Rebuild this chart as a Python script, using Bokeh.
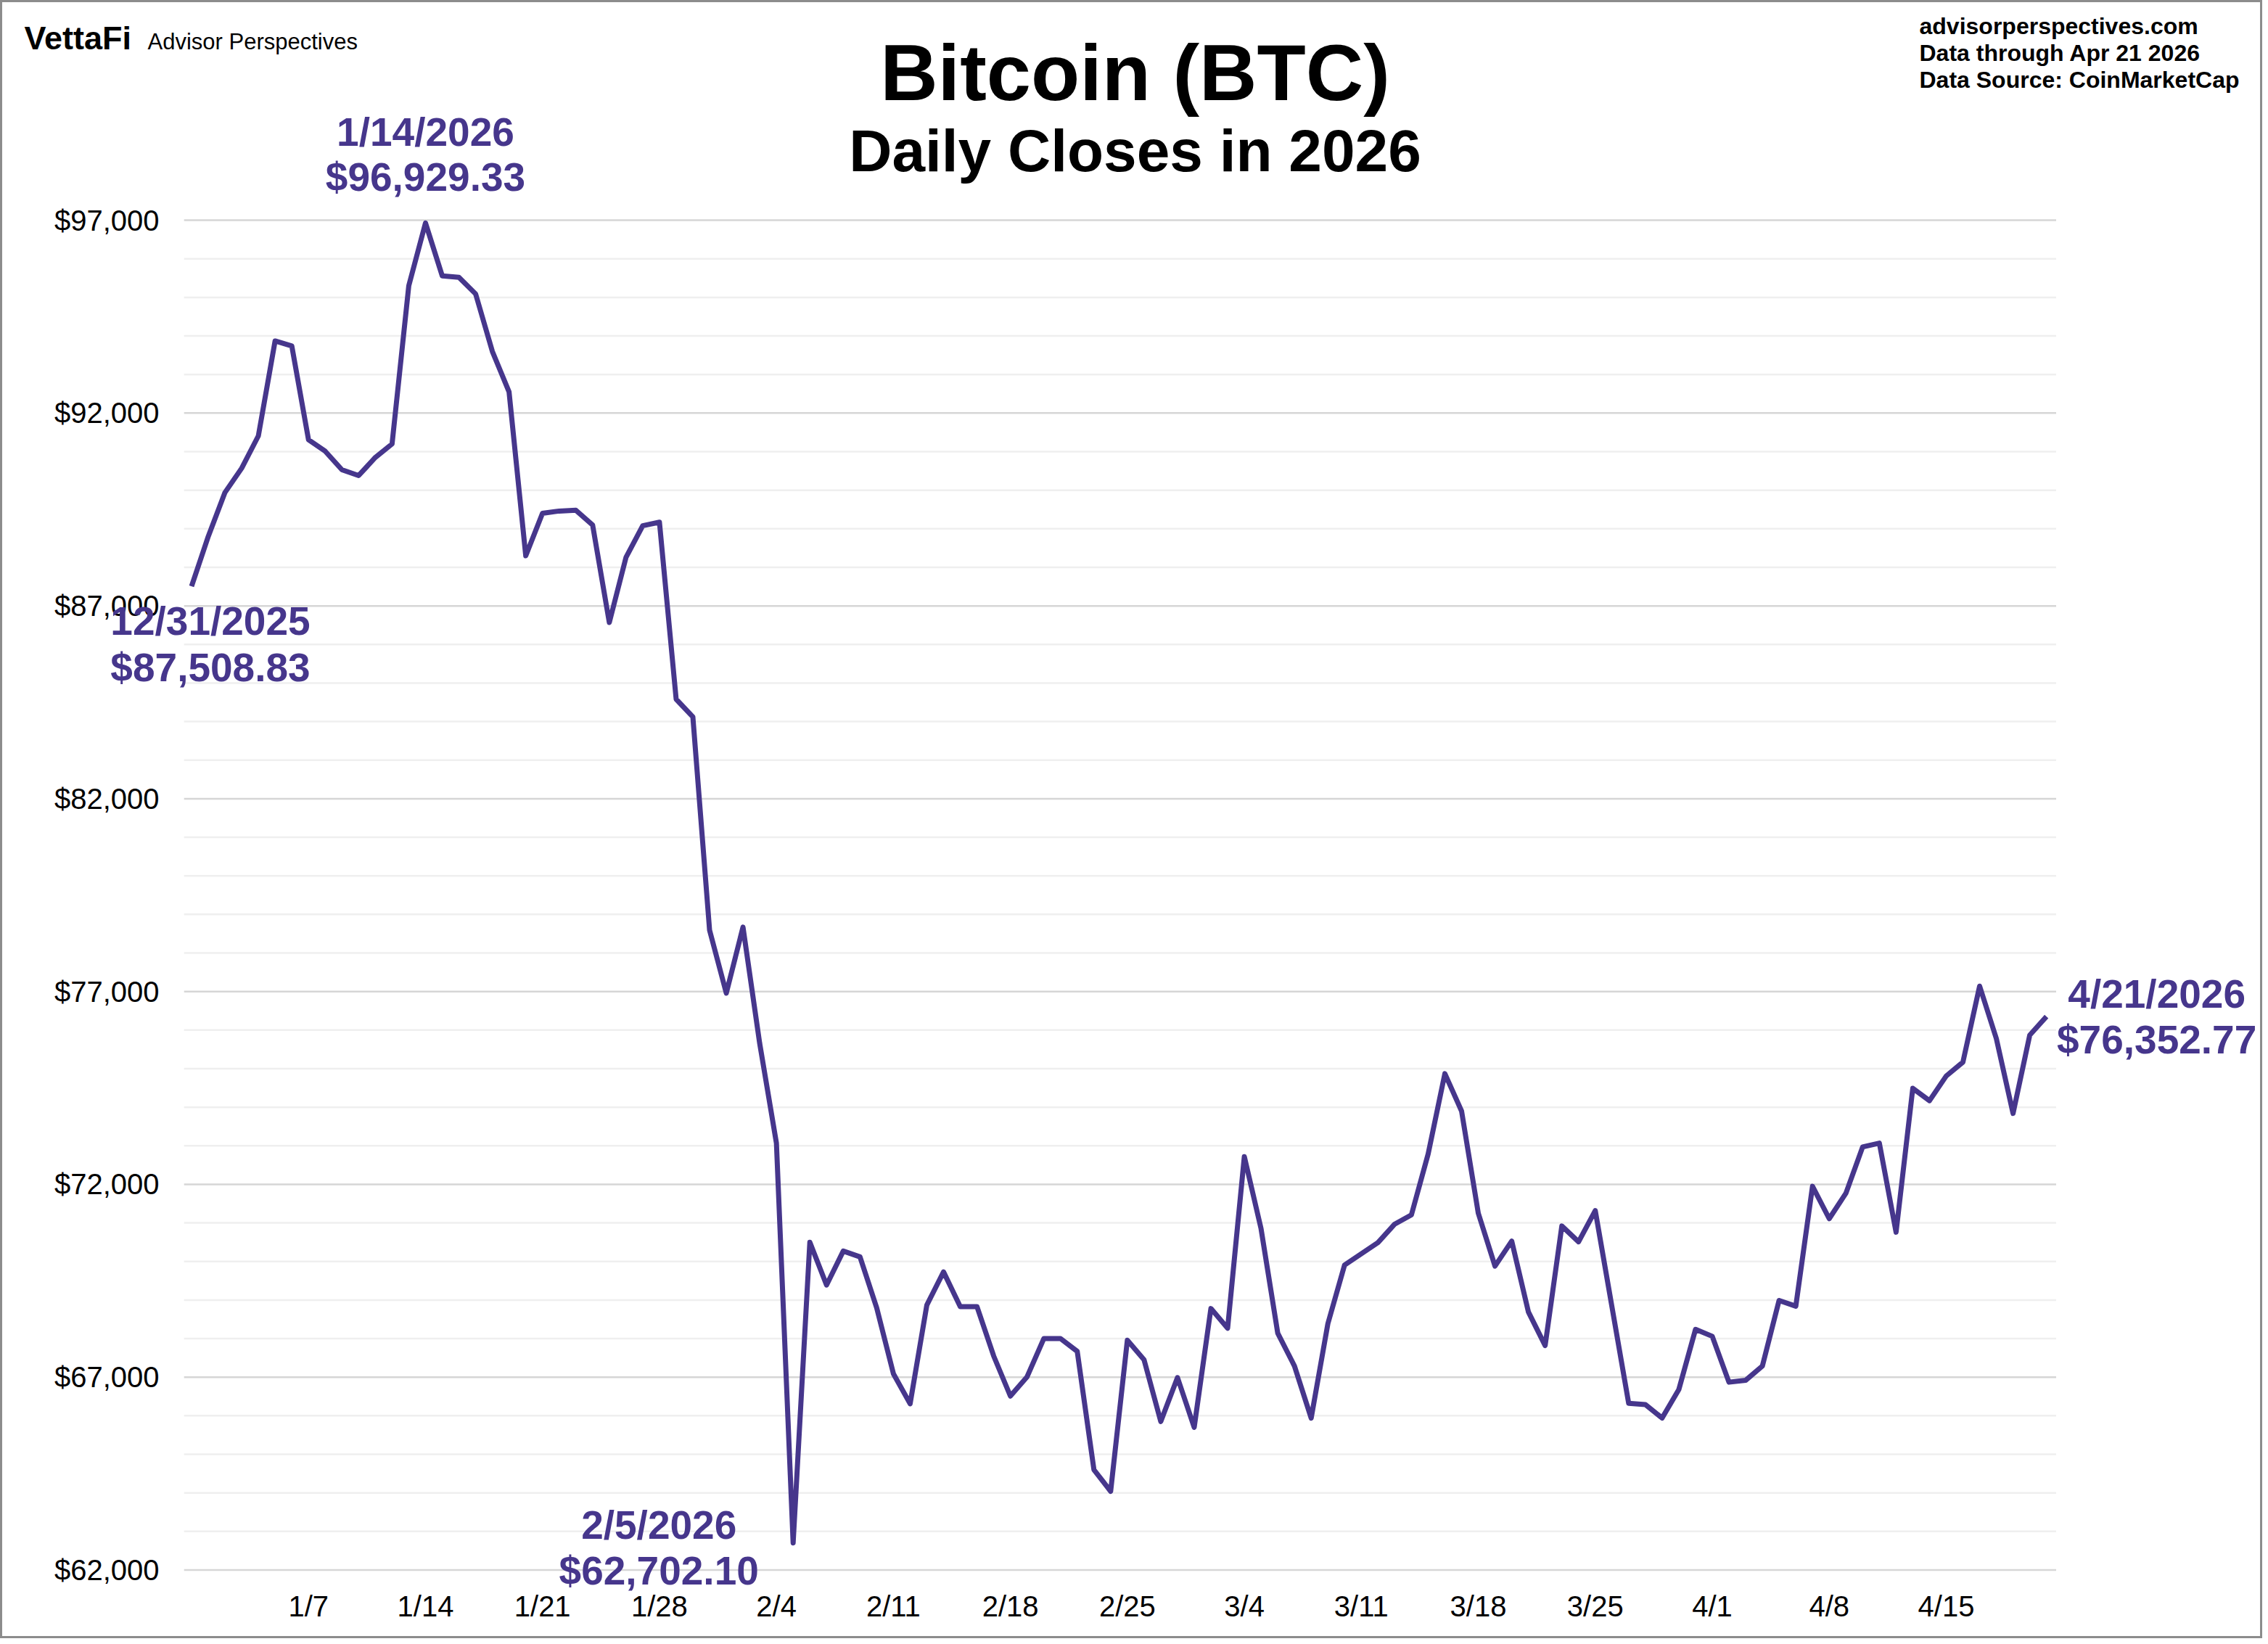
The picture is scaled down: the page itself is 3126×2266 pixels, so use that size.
import pandas as pd
from bokeh.plotting import figure
from bokeh.models import Label, Range1d
from bokeh.core.properties import value
from bokeh.embed import file_html
from bokeh.resources import INLINE

# Данные: дневные закрытия BTC, 31.12.2025 - 21.04.2026
dates = pd.date_range("2025-12-31", "2026-04-21", freq="D")
closes = [
    87508.83, 88800, 89940, 90570, 91410, 93870, 93740, 91310, 91010, 90530,
    90380, 90850, 91200, 95300, 96929.33, 95560, 95520, 95090, 93600, 92550,
    88300, 89400, 89460, 89480, 89100, 86570, 88260, 89080, 89170, 84580,
    84120, 78590, 76960, 78670, 75650, 73070, 62702.10, 70500, 69390, 70270,
    70120, 68800, 67090, 66310, 68870, 69730, 68830, 68830, 67550, 66510,
    67010, 68000, 68000, 67670, 64600, 64040, 67960, 67450, 65850, 66990,
    65700, 68780, 68270, 72720, 70850, 68140, 67290, 65940, 68390, 69910,
    70200, 70490, 70970, 71210, 72790, 74870, 73900, 71250, 69880, 70530,
    68690, 67820, 70920, 70510, 71320, 68820, 66320, 66290, 65940, 66680,
    68240, 68060, 66870, 66920, 67290, 68990, 68840, 71950, 71110, 71770,
    72970, 73070, 70760, 74490, 74170, 74810, 75170, 77140, 75780, 73840,
    75870, 76352.77,
]

tick_dates = ["2026-01-07", "2026-01-14", "2026-01-21", "2026-01-28", "2026-02-04",
              "2026-02-11", "2026-02-18", "2026-02-25", "2026-03-04", "2026-03-11",
              "2026-03-18", "2026-03-25", "2026-04-01", "2026-04-08", "2026-04-15"]
tick_labels = ["1/7", "1/14", "1/21", "1/28", "2/4", "2/11", "2/18", "2/25",
               "3/4", "3/11", "3/18", "3/25", "4/1", "4/8", "4/15"]
y_major = [62000, 67000, 72000, 77000, 82000, 87000, 92000, 97000]
y_minor = [v for v in range(62000, 97001, 1000) if v not in y_major]

ann_dates = ["2025-12-31", "2026-01-14", "2026-02-05", "2026-04-21"]
ann_values = [87508.83, 96929.33, 62702.10, 76352.77]

PURPLE = "#46368c"
FONT = "Liberation Sans"
DAY = 86400000

# Геометрия страницы (пиксели): рамка 3px, холст на всю страницу
W, H, EDGE = 3118, 2258, 3
PX_DAY = 23.033          # пикселей на день
X0_PX = 263.5            # позиция 31.12.2025
PX_USD = 0.053154        # пикселей на доллар
Y97_PX = 303.1           # позиция линии $97,000
PLOT_L, PLOT_R = 253.2, 2833.5
LIFT = 0.36              # поправка базовой линии Label (доля размера шрифта)


def ms(d):
    return int(pd.Timestamp(d).value // 10**6)


def x_of(px):
    return ms(dates[0]) + (px - X0_PX) / PX_DAY * DAY


def y_of(py):
    return 97000 - (py - Y97_PX) / PX_USD


def create_figure():
    p = figure(width=W, height=H, output_backend="svg", toolbar_location=None,
               x_axis_location=None, y_axis_location=None, min_border=0,
               x_range=Range1d(x_of(EDGE), x_of(EDGE + W)),
               y_range=Range1d(y_of(EDGE + H), y_of(EDGE)))
    p.outline_line_color = None
    p.grid.visible = False
    p.background_fill_color = "white"
    p.border_fill_color = "white"
    p.styles = {"border": "3px solid #8c8c8c"}
    return p


def add_grid(p):
    # горизонтальная сетка: мелкая через $1,000, основная через $5,000
    x0, x1 = x_of(PLOT_L), x_of(PLOT_R)
    p.segment(x0=[x0] * len(y_minor), x1=[x1] * len(y_minor), y0=y_minor, y1=y_minor,
              color="#efefef", line_width=2.5)
    p.segment(x0=[x0] * len(y_major), x1=[x1] * len(y_major), y0=y_major, y1=y_major,
              color="#d6d6d6", line_width=2.5)
    # подписи осей
    p.text(x=[x_of(219)] * len(y_major), y=y_major, text=[f"${v:,}" for v in y_major],
           text_align="right", text_baseline="middle", text_font=value(FONT),
           text_font_size=value("40px"), text_color="black")
    p.text(x=[ms(d) for d in tick_dates], y=[y_of(2213)] * len(tick_dates), text=tick_labels,
           text_align="center", text_baseline="middle", text_font=value(FONT),
           text_font_size=value("40px"), text_color="black")


def add_line(p):
    p.line(x=dates, y=closes, color=PURPLE, line_width=7, line_join="round")


def add_annotations(p):
    # подписи точек: (сдвиг x, сдвиг даты, сдвиг значения)
    offsets = [(26, -68, -132), (0, 106, 44), (-185, 5, -58), (152, 11, -52)]
    lift = LIFT * 55
    for d, v, (dx, dy1, dy2) in zip(ann_dates, ann_values, offsets):
        t = pd.Timestamp(d)
        for txt, dy in ((f"{t.month}/{t.day}/{t.year}", dy1), (f"${v:,.2f}", dy2)):
            p.add_layout(Label(x=ms(t), y=v, x_offset=dx, y_offset=dy + lift, text=txt,
                               text_align="center", text_baseline="alphabetic",
                               text_font=FONT, text_font_style="bold",
                               text_font_size="55px", text_color=PURPLE))


def add_header(p):
    def page_label(px, py, text, size, bold=True, align="left"):
        p.add_layout(Label(x=x_of(px), y=y_of(py), y_offset=LIFT * size, text=text,
                           text_font=FONT, text_font_size=f"{size}px",
                           text_font_style="bold" if bold else "normal",
                           text_align=align, text_baseline="alphabetic",
                           text_color="black"))

    page_label(33, 68, "VettaFi", 45)
    page_label(203, 68, "Advisor Perspectives", 31, bold=False)
    page_label(1564, 139, "Bitcoin (BTC)", 110, align="center")
    page_label(1564, 237, "Daily Closes in 2026", 82, align="center")
    page_label(2645, 47, "advisorperspectives.com", 32)
    page_label(2645, 84, "Data through  Apr 21 2026", 32)
    page_label(2645, 121, "Data Source:  CoinMarketCap", 32)


if __name__ == "__main__":
    p = create_figure()
    add_grid(p)
    add_line(p)
    add_annotations(p)
    add_header(p)
    open("out.html", "w").write(file_html(p, INLINE))
